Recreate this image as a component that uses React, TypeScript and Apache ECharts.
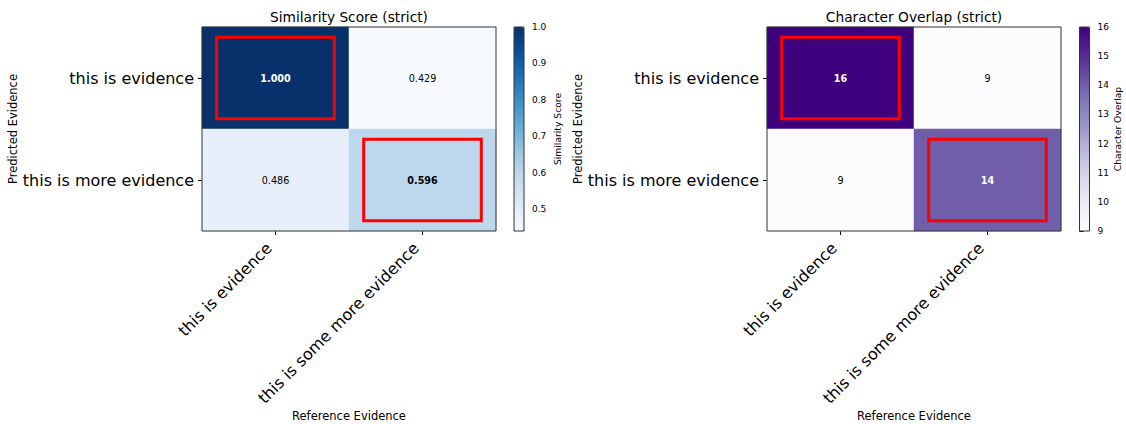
import React, { useEffect, useRef } from 'react';
import * as echarts from 'echarts';

// Category labels
const referenceEvidence = ['this is evidence', 'this is some more evidence'];
const predictedEvidence = ['this is evidence', 'this is more evidence'];

// Matrices: rows = predicted evidence, columns = reference evidence
const similarityScores = [
  [1.0, 0.429],
  [0.486, 0.596],
];
const characterOverlap = [
  [16, 9],
  [9, 14],
];

// Matched (row, column) pairs that get a red outline
const matchedPairs = [
  [0, 0],
  [1, 1],
];

// Colour-bar ranges and ticks
const similarityRange = [0.44, 1.0];
const overlapRange = [9, 16];
const similarityTicks = [0.5, 0.6, 0.7, 0.8, 0.9, 1.0];
const overlapTicks = [9, 10, 11, 12, 13, 14, 15, 16];

const BLUES = ['#f7fbff', '#deebf7', '#c6dbef', '#9ecae1', '#6baed6', '#4292c6', '#2171b5', '#08519c', '#08306b'];
const PURPLES = ['#fcfbfd', '#efedf5', '#dadaeb', '#bcbddc', '#9e9ac8', '#807dba', '#6a51a3', '#54278f', '#3f007d'];

const FONT = 'DejaVu Sans';
const SPINE = '#333';

type Panel = {
  title: string;
  matrix: number[][];
  range: number[];
  ticks: number[];
  colors: string[];
  barLabel: string;
  fmtCell: (v: number) => string;
  fmtTick: (v: number) => string;
  heatLeft: number;
  barLeft: number;
  barNameGap: number;
};

const panels: Panel[] = [
  {
    title: 'Similarity Score (strict)',
    matrix: similarityScores,
    range: similarityRange,
    ticks: similarityTicks,
    colors: BLUES,
    barLabel: 'Similarity Score',
    fmtCell: (v) => v.toFixed(3),
    fmtTick: (v) => v.toFixed(1),
    heatLeft: 202,
    barLeft: 514,
    barNameGap: 28.5,
  },
  {
    title: 'Character Overlap (strict)',
    matrix: characterOverlap,
    range: overlapRange,
    ticks: overlapTicks,
    colors: PURPLES,
    barLabel: 'Character Overlap',
    fmtCell: (v) => String(Math.round(v)),
    fmtTick: (v) => String(v),
    heatLeft: 767,
    barLeft: 1079.5,
    barNameGap: 17,
  },
];

const TOP = 27;
const HEAT_W = 294;
const HEAT_H = 204;
const BAR_W = 10;

function buildOption() {
  const grid: any[] = [];
  const xAxis: any[] = [];
  const yAxis: any[] = [];
  const series: any[] = [];
  const visualMap: any[] = [];
  const graphic: any[] = [];

  panels.forEach((p, i) => {
    const heatGrid = 2 * i;
    const barGrid = 2 * i + 1;
    const isMatched = (r: number, c: number) => matchedPairs.some(([mr, mc]) => mr === r && mc === c);

    grid.push(
      {
        left: p.heatLeft, top: TOP, width: HEAT_W, height: HEAT_H,
        show: true, backgroundColor: 'transparent', borderColor: SPINE, borderWidth: 1, z: 10,
      },
      {
        left: p.barLeft, top: TOP, width: BAR_W, height: HEAT_H,
        show: true, backgroundColor: 'transparent', borderColor: SPINE, borderWidth: 1, z: 10,
      }
    );

    xAxis.push(
      {
        gridIndex: heatGrid,
        type: 'category',
        data: referenceEvidence,
        position: 'bottom',
        axisLine: { show: false },
        axisTick: { show: true, alignWithLabel: true, length: 4, lineStyle: { color: '#000', width: 1 } },
        axisLabel: {
          interval: 0, rotate: 45, fontSize: 16, fontFamily: FONT, color: '#000', margin: 8,
          padding: [0, 9, 0, 0],
        },
        splitLine: { show: false },
        name: 'Reference Evidence',
        nameLocation: 'middle',
        nameGap: 176,
        nameTextStyle: { fontSize: 11.5, fontFamily: FONT, color: '#000' },
      },
      { gridIndex: barGrid, type: 'value', show: false }
    );

    yAxis.push(
      {
        gridIndex: heatGrid,
        type: 'category',
        data: predictedEvidence,
        inverse: true,
        axisLine: { show: false },
        axisTick: { show: true, alignWithLabel: true, length: 4, lineStyle: { color: '#000', width: 1 } },
        axisLabel: { interval: 0, fontSize: 16, fontFamily: FONT, color: '#000', margin: 8 },
        splitLine: { show: false },
        name: 'Predicted Evidence',
        nameLocation: 'middle',
        nameGap: 181,
        nameRotate: 90,
        nameTextStyle: { fontSize: 11.5, fontFamily: FONT, color: '#000' },
      },
      {
        gridIndex: barGrid,
        type: 'value',
        position: 'right',
        min: p.range[0],
        max: p.range[1],
        axisLine: { show: false },
        axisTick: { show: true, length: 4, customValues: p.ticks, lineStyle: { color: '#000', width: 1 } },
        axisLabel: {
          customValues: p.ticks, formatter: (v: number) => p.fmtTick(v),
          fontSize: 9, fontFamily: FONT, color: '#000', margin: 8,
        },
        splitLine: { show: false },
        name: p.barLabel,
        nameLocation: 'middle',
        nameGap: p.barNameGap,
        nameRotate: 90,
        nameTextStyle: { fontSize: 9.2, fontFamily: FONT, color: '#000' },
      }
    );

    const span = p.range[1] - p.range[0];
    const cells: any[] = [];
    p.matrix.forEach((row, r) =>
      row.forEach((v, c) => {
        const norm = (v - p.range[0]) / span;
        cells.push({
          value: [c, r, v],
          label: {
            color: norm > 0.5 ? '#fff' : '#000',
            fontWeight: isMatched(r, c) ? 'bold' : 'normal',
          },
        });
      })
    );

    series.push(
      {
        type: 'heatmap',
        xAxisIndex: heatGrid,
        yAxisIndex: heatGrid,
        data: cells,
        label: {
          show: true,
          fontSize: 9.6,
          fontFamily: FONT,
          formatter: (prm: any) => p.fmtCell(prm.value[2]),
        },
        itemStyle: { borderWidth: 0 },
        emphasis: { disabled: true },
      },
      {
        type: 'custom',
        xAxisIndex: heatGrid,
        yAxisIndex: heatGrid,
        silent: true,
        z: 3,
        data: matchedPairs.map(([r, c]) => [c, r]),
        renderItem: (_params: any, api: any) => {
          const center = api.coord([api.value(0), api.value(1)]);
          const size = api.size([1, 1]);
          const w = size[0] * 0.8;
          const h = size[1] * 0.8;
          return {
            type: 'rect',
            shape: { x: center[0] - w / 2, y: center[1] - h / 2, width: w, height: h },
            style: { fill: 'none', stroke: '#ff0000', lineWidth: 3 },
          };
        },
      }
    );

    visualMap.push({
      type: 'continuous',
      seriesIndex: 2 * i,
      dimension: 2,
      min: p.range[0],
      max: p.range[1],
      inRange: { color: p.colors },
      orient: 'vertical',
      left: p.barLeft,
      top: TOP,
      itemWidth: BAR_W,
      itemHeight: HEAT_H,
      padding: 0,
      calculable: false,
      hoverLink: false,
      showLabel: false,
      text: null,
      z: 1,
    });

    graphic.push({
      type: 'text',
      x: p.heatLeft + HEAT_W / 2,
      y: 17,
      style: {
        text: p.title,
        fontSize: 13.75,
        fontFamily: FONT,
        fill: '#000',
        align: 'center',
        verticalAlign: 'middle',
      },
    });
  });

  return {
    animation: false,
    backgroundColor: '#fff',
    textStyle: { fontFamily: FONT },
    grid,
    xAxis,
    yAxis,
    series,
    visualMap,
    graphic,
  };
}

export default function App() {
  const ref = useRef<HTMLDivElement>(null);

  useEffect(() => {
    if (!ref.current) return;
    const chart = echarts.init(ref.current, undefined, { renderer: 'svg' });
    chart.setOption(buildOption() as any);
    return () => chart.dispose();
  }, []);

  return (
    <div
      ref={ref}
      style={{ position: 'absolute', left: 0, top: 0, width: 1126, height: 424 }}
    />
  );
}
